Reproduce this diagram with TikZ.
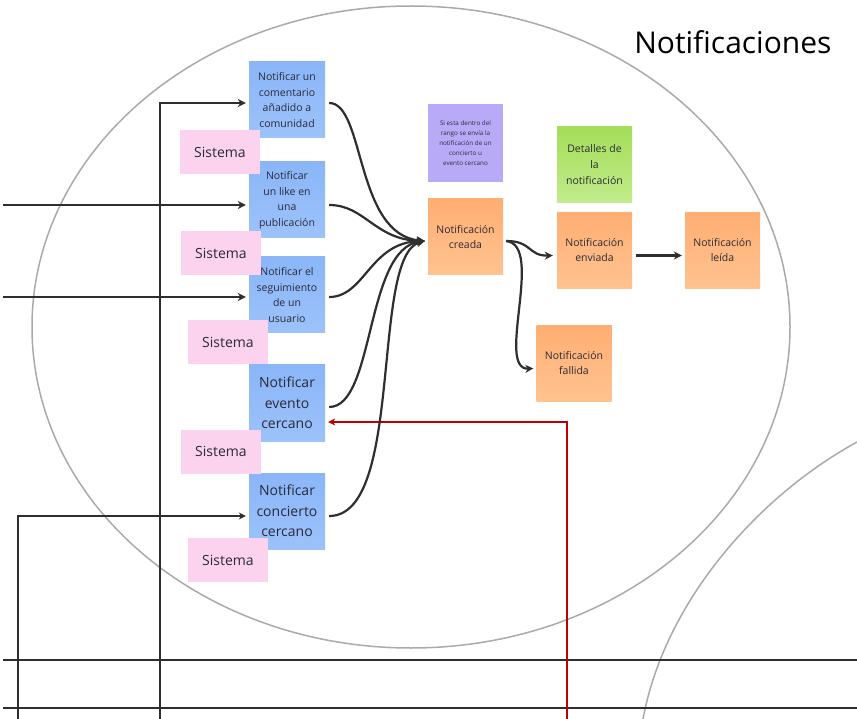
\documentclass[tikz,border=0pt]{standalone}
\usepackage{fontspec}
\setmainfont{Open Sans}
\usetikzlibrary{arrows.meta}
\definecolor{bluebox}{HTML}{8AB6F8}
\definecolor{blueboxb}{HTML}{9CC2FA}
\definecolor{pinkbox}{HTML}{FBD3EF}
\definecolor{orangetop}{HTML}{FFAE72}
\definecolor{orangebot}{HTML}{FFC390}
\definecolor{greentop}{HTML}{A4DD58}
\definecolor{greenbot}{HTML}{C2EC8C}
\definecolor{purplebox}{HTML}{B9AAF8}
\definecolor{redline}{HTML}{C00000}
\definecolor{ellgray}{HTML}{AAAAAA}
\definecolor{arrowc}{HTML}{2E2E2E}
\definecolor{txt}{HTML}{2A2A38}
\tikzset{
  x=1pt, y=-1pt,
  sticky/.style={rectangle, inner sep=2pt, align=center, text=txt},
  bluenote/.style={sticky, minimum width=76pt, minimum height=76pt, top color=bluebox, bottom color=blueboxb},
  smalltext/.style={font=\fontsize{10.5}{15.5}\selectfont},
  bigtext/.style={font=\fontsize{14}{20.5}\selectfont},
  pinknote/.style={sticky, minimum width=80pt, minimum height=44pt, fill=pinkbox, font=\fontsize{14}{18}\selectfont},
  orangenote/.style={sticky, minimum width=75pt, minimum height=76pt, top color=orangetop, bottom color=orangebot, font=\fontsize{10.5}{15}\selectfont},
  flow/.style={draw=arrowc, line width=2.2pt, -{Stealth[length=8pt,width=8pt]}},
  thinflow/.style={draw=arrowc, line width=1.6pt, -{Stealth[length=7pt,width=7pt]}},
  plainline/.style={draw=arrowc, line width=1.8pt},
}
\begin{document}
\begin{tikzpicture}
\useasboundingbox (0,0) rectangle (857,719);
\fill[white] (0,0) rectangle (857,719);
% big ellipse and second arc
\draw[ellgray, line width=1.5pt] (411,327) ellipse [x radius=379, y radius=321];
\draw[ellgray, line width=1.5pt] (857,442) .. controls (760,495) and (665,600) .. (643,719);
% horizontal lines
\draw[plainline] (3,660) -- (857,660);
\draw[plainline] (3,708) -- (857,708);
% title
\node[anchor=east, font=\fontsize{30}{34}\selectfont, text=black] (title) at (835,42) {Notificaciones};
% blue notes
\node[bluenote, smalltext] (b1) at (287,100) {Notificar un\\comentario\\añadido a\\comunidad};
\node[bluenote, smalltext] (b2) at (287,200) {Notificar\\un like en\\una\\publicación};
\node[bluenote, smalltext] (b3) at (287,295) {Notificar el\\seguimiento\\de un\\usuario};
\node[bluenote, bigtext] (b4) at (287,403) {Notificar\\evento\\cercano};
\node[bluenote, bigtext] (b5) at (287,511) {Notificar\\concierto\\cercano};
% pink notes
\node[pinknote] (s1) at (220,152) {Sistema};
\node[pinknote] (s2) at (221,253.5) {Sistema};
\node[pinknote] (s3) at (228,342.5) {Sistema};
\node[pinknote] (s4) at (221,451.5) {Sistema};
\node[pinknote] (s5) at (228,560) {Sistema};
% orange, purple, green
\node[orangenote] (creada) at (465.5,237) {Notificación\\creada};
\node[orangenote] (enviada) at (594.5,250.5) {Notificación\\enviada};
\node[orangenote] (leida) at (722.5,250.5) {Notificación\\leída};
\node[orangenote] (fallida) at (574,363.5) {Notificación\\fallida};
\node[sticky, minimum width=75pt, minimum height=78pt, fill=purplebox, font=\fontsize{6.3}{10}\selectfont] (rango) at (465.5,143) {Si esta dentro del\\rango se envía la\\notificación de un\\concierto u\\evento cercano};
\node[sticky, minimum width=75pt, minimum height=76pt, top color=greentop, bottom color=greenbot, font=\fontsize{10.5}{16}\selectfont] (detalles) at (594.5,165) {Detalles de\\la\\notificación};
% free ends
\coordinate (in1) at (160,719);
\coordinate (in2) at (3,205);
\coordinate (in3) at (3,297);
\coordinate (in5) at (18,719);
\coordinate (inr) at (567,719);
% incoming arrows
\draw[flow] (in1) |- ([xshift=-3pt,yshift=-3pt]b1.west);
\draw[flow] (in2) -- ([xshift=-3pt,yshift=-5pt]b2.west);
\draw[flow] (in3) -- ([xshift=-3pt,yshift=-2pt]b3.west);
\draw[thinflow] (in5) |- ([xshift=-3pt,yshift=-5pt]b5.west);
\draw[draw=redline, line width=1.6pt, -{Stealth[length=7pt,width=7pt]}] (inr) |- ([xshift=3pt,yshift=-19pt]b4.east);
% curves into creada
\draw[flow] ([xshift=4pt,yshift=-3pt]b1.east) .. controls (365,103) and (355,235) .. ([xshift=-3pt,yshift=-4pt]creada.west);
\draw[flow] ([xshift=4pt,yshift=-5pt]b2.east) .. controls (365,205) and (375,240) .. ([xshift=-3pt,yshift=-4pt]creada.west);
\draw[flow] ([xshift=4pt,yshift=-2pt]b3.east) .. controls (365,297) and (370,242) .. ([xshift=-3pt,yshift=-4pt]creada.west);
\draw[flow] ([xshift=4pt,yshift=-4pt]b4.east) .. controls (375,407) and (365,248) .. ([xshift=-3pt,yshift=-4pt]creada.west);
\draw[flow] ([xshift=4pt,yshift=-5pt]b5.east) .. controls (405,516) and (370,255) .. ([xshift=-3pt,yshift=-4pt]creada.west);
% from creada
\draw[flow] ([xshift=3pt,yshift=-4pt]creada.east) .. controls (532,241) and (528,256) .. ([xshift=-4pt,yshift=-5pt]enviada.west);
\draw[flow] ([xshift=3pt,yshift=-4pt]creada.east) .. controls (545,245) and (495,370) .. ([xshift=-3pt,yshift=-5pt]fallida.west);
\draw[flow] ([xshift=4pt,yshift=-5pt]enviada.east) -- ([xshift=-3pt,yshift=-5pt]leida.west);
\end{tikzpicture}
\end{document}
